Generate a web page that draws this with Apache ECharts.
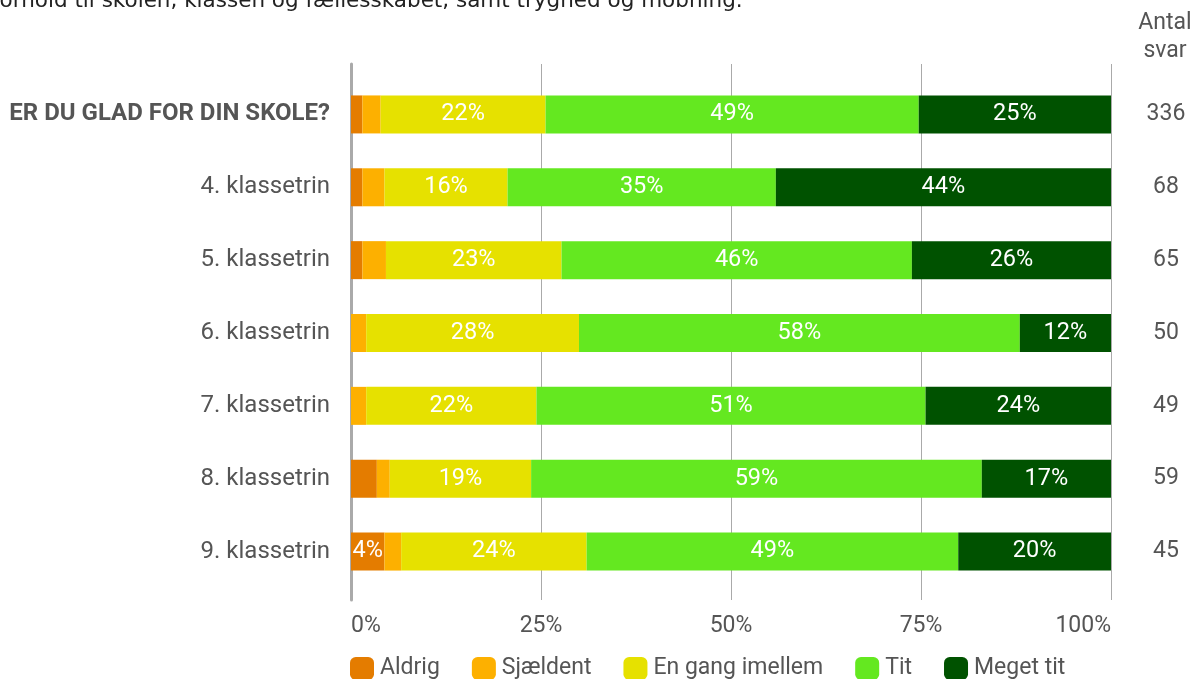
<!DOCTYPE html>
<html>
<head>
<meta charset="utf-8">
<script src="https://cdn.jsdelivr.net/npm/echarts@6/dist/echarts.min.js"></script>
<style>html,body{margin:0;padding:0;background:#fff;}#c{width:1194px;height:679px;}</style>
</head>
<body>
<div id="c"></div>
<script>
const categories = ['ER DU GLAD FOR DIN SKOLE?', '4. klassetrin', '5. klassetrin', '6. klassetrin', '7. klassetrin', '8. klassetrin', '9. klassetrin'];
const answers = [336, 68, 65, 50, 49, 59, 45];
const seriesNames = ['Aldrig', 'Sjældent', 'En gang imellem', 'Tit', 'Meget tit'];
const aldrig    = [1.5, 1.5, 1.5, 0, 0, 3.4, 4.4];
const sjaeldent = [2.4, 2.9, 3.1, 2.0, 2.0, 1.7, 2.2];
const enGang    = [21.7, 16.2, 23.1, 28.0, 22.4, 18.6, 24.4];
const tit       = [49.1, 35.3, 46.1, 58.0, 51.2, 59.3, 48.9];
const megetTit  = [25.3, 44.1, 26.2, 12.0, 24.4, 17.0, 20.1];
const xTicks = [0, 25, 50, 75, 100];
const colors = ['#E47C00', '#FDB000', '#E6E100', '#64E820', '#005200'];

const FONT = 'Roboto';
const GREY = '#555555';
const values = [aldrig, sjaeldent, enGang, tit, megetTit];

const chart = echarts.init(document.getElementById('c'), null, {renderer: 'canvas'});
const series = seriesNames.map((name, i) => ({
  name: name,
  type: 'bar',
  stack: 'all',
  xAxisIndex: 0,
  yAxisIndex: 0,
  barWidth: 38,
  itemStyle: {color: colors[i]},
  label: {
    show: true,
    position: 'inside',
    color: '#ffffff',
    fontFamily: FONT,
    fontSize: 23.5,
    formatter: p => p.value >= 3.5 ? Math.round(p.value) + '%' : ''
  },
  data: values[i]
}));

chart.setOption({
  animation: false,
  textStyle: {fontFamily: FONT},
  grid: [
    {left: 351, right: 83, top: 78, height: 510},
    {left: 351, right: 83, top: 64, height: 536}
  ],
  xAxis: [
    {gridIndex: 0, type: 'value', min: 0, max: 100, show: false},
    {gridIndex: 1, type: 'value', min: xTicks[0], max: xTicks[xTicks.length - 1], interval: 25,
     axisLine: {show: false}, axisTick: {show: false},
     splitLine: {show: true, lineStyle: {color: '#aaaaaa', width: 1}},
     axisLabel: {color: GREY, fontSize: 23, fontFamily: FONT, margin: 15,
       alignMinLabel: 'left', alignMaxLabel: 'right',
       formatter: v => v + '%'}}
  ],
  yAxis: [
    {gridIndex: 0, type: 'category', data: categories, inverse: true,
     axisLine: {show: false}, axisTick: {show: false},
     axisLabel: {margin: 21, fontSize: 24, fontFamily: FONT, color: GREY,
       formatter: (v, idx) => idx === 0 ? '{b|' + v + '}' : v,
       rich: {b: {fontWeight: 'bold', fontSize: 24, fontFamily: FONT, color: GREY}}}},
    {gridIndex: 0, type: 'category', data: answers.map(String), inverse: true, position: 'right',
     axisLine: {show: false}, axisTick: {show: false},
     axisLabel: {margin: 55, align: 'center', fontSize: 23, fontFamily: FONT, color: GREY}},
    {gridIndex: 1, type: 'value', min: 0, max: 1, axisLabel: {show: false}, axisTick: {show: false},
     splitLine: {show: false},
     axisLine: {show: true, lineStyle: {color: '#aaaaaa', width: 3}}}
  ],
  legend: {
    left: 350, top: 657, padding: 0,
    icon: 'roundRect',
    itemWidth: 24, itemHeight: 23, itemGap: 32,
    textStyle: {color: GREY, fontSize: 23, fontFamily: FONT, padding: [0, 0, 0, 1]},
    data: seriesNames
  },
  graphic: [
    {type: 'text', x: 1165, y: 9, style: {text: 'Antal\nsvar', fill: GREY, font: '23px Roboto', textAlign: 'center', lineHeight: 28}},
    {type: 'text', x: -8, y: -10, style: {text: 'forhold til skolen, klassen og fællesskabet, samt tryghed og mobning.', fill: '#222', font: '21.5px "DejaVu Sans"'}}
  ],
  series: series
});
</script>
</body>
</html>
